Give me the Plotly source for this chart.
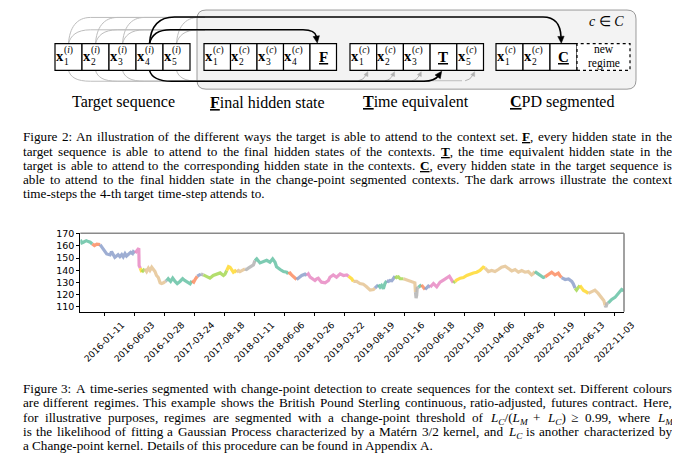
import re
import plotly.graph_objects as go

# page is shown with the browser's default 8px body margin, so the figure is 672x451
OFF = 8
FWID, FHEI = 672, 451

def PX(x):
    return (x - OFF) / FWID

def PY(y):
    return 1 - (y - OFF) / FHEI

# ---------------- data ----------------
idx = [0, 5, 10, 20, 27, 33,
       40, 47, 55,
       66, 77, 88, 99, 104, 115, 121, 126, 132, 138, 143, 149, 154, 160, 168, 174, 177,
       183, 190, 195, 196, 197,
       200,
       205, 210,
       215, 221, 227, 232, 238, 243, 249, 254, 260, 266, 271, 277,
       283,
       288, 293, 301, 308, 316, 323, 332, 341, 348, 357, 366,
       372, 378, 384,
       390, 396,
       402,
       410, 421, 432, 443, 454, 466, 477, 482,
       488, 494, 499, 505, 510, 516,
       521, 527, 532, 538, 543,
       549, 554, 560, 566, 571, 577,
       582, 588, 599, 610, 621, 632, 641, 649, 654, 666, 677, 688,
       693, 699, 704, 710, 716,
       721, 727, 738, 749,
       755, 760, 766, 777, 782, 788, 793, 799, 804, 816, 827, 832, 843, 854, 866, 877, 888,
       894, 899, 905,
       910, 921, 932, 943, 954, 966, 977,
       982, 988,
       993, 999, 1004, 1010, 1015,
       1021, 1027, 1032, 1038, 1043,
       1049, 1054, 1060, 1066,
       1077, 1088, 1093, 1104, 1110, 1115,
       1117, 1119, 1121, 1123,
       1127, 1132,
       1137, 1143,
       1149, 1154, 1160,
       1166, 1177, 1188, 1199, 1210, 1221, 1230, 1238,
       1243,
       1249, 1254, 1266, 1277, 1288, 1299, 1310, 1321, 1332, 1343,
       1349, 1360, 1371, 1382, 1393, 1404, 1416, 1427, 1438, 1449, 1460, 1471, 1482, 1493, 1504, 1510,
       1515, 1526, 1538, 1543,
       1549, 1560, 1571, 1582, 1593, 1598,
       1604, 1616, 1627, 1638, 1643,
       1649, 1654, 1660,
       1665, 1671, 1677, 1684,
       1693, 1704, 1715, 1726, 1738, 1745,
       1749, 1752, 1755,
       1760, 1771, 1782, 1793, 1804, 1812]

price = [165.0, 162.4, 163.0, 164.3, 163.5, 163.0,
         161.5, 160.2, 161.5,
         161.0, 157.5, 153.4, 152.6, 155.3, 150.6, 152.0, 152.8, 151.2, 152.8, 151.0, 153.7, 151.7, 153.4, 154.7, 153.7, 155.3,
         154.2, 157.0, 158.0, 143.8, 142.5,
         141.7,
         138.4, 139.5,
         141.1, 138.9, 141.7, 139.8, 142.5, 141.1, 138.9, 135.7, 134.0, 129.7, 129.1, 129.7,
         130.8,
         131.6, 133.0, 130.8, 133.5, 130.8, 129.1, 130.8, 133.0, 131.6, 130.2, 128.9,
         131.3, 130.2, 133.0,
         135.1, 136.2,
         136.8,
         136.2, 135.1, 133.5, 135.7, 136.8, 137.8, 135.7, 136.8,
         139.8, 143.0, 142.5, 139.8, 138.4, 139.5,
         138.4, 139.8, 138.9, 139.5, 140.6,
         141.1, 140.6, 141.7, 142.5, 143.3, 144.4,
         147.9, 149.3, 146.0, 147.1, 148.2, 146.6, 149.3, 146.6, 142.8, 140.6, 138.9, 138.4,
         137.0, 137.8, 136.2, 135.1, 133.5,
         132.4, 133.5, 135.7, 136.8,
         135.7, 137.0, 134.3, 132.1, 131.6, 133.0, 133.5, 131.6, 130.2, 129.7, 131.6, 134.3, 136.2, 134.3, 137.0, 135.7, 136.2,
         135.1, 134.0, 132.9,
         130.8, 130.8, 129.1, 128.6, 126.4, 123.7, 124.2,
         125.3, 126.4,
         128.0, 126.1, 127.5, 124.8, 128.9,
         131.3, 130.8, 131.6, 131.3, 133.0,
         135.1, 134.0, 134.6, 133.0,
         133.0, 132.1, 131.3, 130.8, 130.2, 129.7,
         122.0, 117.1, 119.3, 125.3,
         126.1, 127.0,
         128.0, 126.4,
         124.2, 125.3, 127.0,
         126.1, 129.1, 126.4, 130.2, 131.9, 133.5, 135.1, 131.9,
         129.7,
         130.8, 131.9, 133.5, 134.0, 135.7, 137.0, 137.8, 138.4, 139.8, 142.5,
         141.7, 138.9, 139.8, 138.9, 140.6, 142.5, 143.3, 141.7, 139.5, 140.6, 138.4, 139.8, 138.4, 138.9, 136.2, 137.3,
         138.9, 136.8, 134.3, 134.0,
         134.6, 136.2, 138.4, 136.2, 137.6, 135.7,
         134.0, 132.4, 132.9, 130.8, 128.9,
         125.3, 123.7, 125.9,
         127.5, 125.3, 123.4, 122.6,
         121.0, 122.0, 123.7, 121.0, 117.1, 115.0,
         111.1, 109.8, 112.5,
         113.3, 116.0, 117.7, 121.0, 124.2, 123.0]

regime = (["teal"] * 6 + ["orange"] * 3 + ["blue"] * 17 + ["pink"] * 5 + ["yellow"] * 1
          + ["green"] * 2 + ["tan"] * 12 + ["grey"] * 1 + ["teal"] * 11 + ["orange"] * 3
          + ["blue"] * 2 + ["grey"] * 1 + ["green"] * 8 + ["yellow"] * 6 + ["tan"] * 5
          + ["grey"] * 6 + ["teal"] * 12 + ["orange"] * 5 + ["blue"] * 4 + ["pink"] * 17
          + ["yellow"] * 3 + ["tan"] * 7 + ["blue"] * 2 + ["teal"] * 5 + ["blue"] * 5
          + ["green"] * 4 + ["tan"] * 6 + ["grey"] * 4 + ["teal"] * 2 + ["orange"] * 2
          + ["blue"] * 3 + ["pink"] * 8 + ["green"] * 1 + ["yellow"] * 10 + ["tan"] * 16
          + ["teal"] * 4 + ["orange"] * 6 + ["blue"] * 5 + ["green"] * 3 + ["yellow"] * 4
          + ["tan"] * 6 + ["grey"] * 3 + ["teal"] * 6)

tick_labels = ["2016-01-11", "2016-06-03", "2016-10-28", "2017-03-24", "2017-08-18",
               "2018-01-11", "2018-06-06", "2018-10-26", "2019-03-22", "2019-08-19",
               "2020-01-16", "2020-06-18", "2020-11-09", "2021-04-06", "2021-08-26",
               "2022-01-19", "2022-06-13", "2022-11-03"]
y_ticks = [110, 120, 130, 140, 150, 160, 170]

cap2 = [
    "Figure 2: An illustration of the different ways the target is able to attend to the context set. <b><u>F</u></b>, every hidden state in the",
    "target sequence is able to attend to the final hidden states of the contexts. <b><u>T</u></b>, the time equivalent hidden state in the",
    "target is able to attend to the corresponding hidden state in the contexts. <b><u>C</u></b>, every hidden state in the target sequence is",
    "able to attend to the final hidden state in the change-point segmented contexts. The dark arrows illustrate the context",
    "time-steps the 4-th target time-step attends to.",
]
cap3 = [
    "Figure 3: A time-series segmented with change-point detection to create sequences for the context set. Different colours",
    "are different regimes. This example shows the British Pound Sterling continuous, ratio-adjusted, futures contract. Here,",
    "for illustrative purposes, regimes are segmented with a change-point threshold of <i>L</i><sub><i>C</i></sub>/(<i>L</i><sub><i>M</i></sub> + <i>L</i><sub><i>C</i></sub>) ≥ 0.99, where <i>L</i><sub><i>M</i></sub>",
    "is the likelihood of fitting a Gaussian Process characterized by a Matérn 3/2 kernel, and <i>L</i><sub><i>C</i></sub> is another characterized by",
    "a Change-point kernel. Details of this procedure can be found in Appendix A.",
]

assert len(idx) == len(price) == len(regime)

regime_colors = {
    "teal": "rgba(102,194,165,0.85)", "orange": "rgba(252,141,98,0.85)",
    "blue": "rgba(141,160,203,0.85)", "pink": "rgba(231,138,195,0.85)",
    "green": "rgba(166,216,84,0.85)", "yellow": "rgba(255,217,47,0.85)",
    "tan": "rgba(229,196,148,0.85)", "grey": "rgba(179,179,179,0.85)",
}

fig = go.Figure()

n = len(idx)
i = 0
while i < n:
    j = i
    while j < n and regime[j] == regime[i]:
        j += 1
    xs = idx[i:j] + ([idx[j]] if j < n else [])
    ys = price[i:j] + ([price[j]] if j < n else [])
    fig.add_trace(go.Scatter(x=xs, y=ys, mode="lines",
                             line=dict(color=regime_colors[regime[i]], width=3.2),
                             hoverinfo="skip", showlegend=False))
    i = j

tick_pos = [80 + 100 * k for k in range(len(tick_labels))]

fig.update_layout(width=FWID, height=FHEI, margin=dict(l=0, r=0, t=0, b=0),
                  paper_bgcolor="white", plot_bgcolor="white", showlegend=False)
fig.update_xaxes(domain=[PX(80.3), PX(624)], range=[0, 1812], tickvals=tick_pos,
                 showticklabels=False, ticks="outside", ticklen=3, tickcolor="black",
                 showline=True, linecolor="black", linewidth=1,
                 showgrid=False, zeroline=False)
fig.update_yaxes(domain=[PY(310), PY(230.7)], range=[106, 170.4], tickvals=y_ticks,
                 ticks="outside", ticklen=3, tickcolor="black",
                 tickfont=dict(family="DejaVu Sans", size=9.5, color="black"),
                 showline=True, linecolor="black", linewidth=1,
                 showgrid=False, zeroline=False)

shapes = []
annots = []

shapes.append(dict(type="line", xref="x domain", yref="y domain", x0=0, x1=1, y0=1, y1=1,
                   line=dict(color="#8a8a8a", width=1.6)))
shapes.append(dict(type="line", xref="x domain", yref="y domain", x0=1, x1=1, y0=0, y1=1,
                   line=dict(color="#8a8a8a", width=1.6)))

for tp, tl in zip(tick_pos, tick_labels):
    annots.append(dict(x=tp, xref="x", y=0, yref="y domain", yshift=-30, text=tl,
                       textangle=-45, showarrow=False, xanchor="center", yanchor="middle",
                       borderpad=0, borderwidth=0,
                       font=dict(family="DejaVu Sans", size=9, color="black")))

# ---------------- diagram (Figure 2) ----------------
def pp(x, y):
    return f"{PX(x):.5f},{PY(y):.5f}"

def path(cmds):
    return " ".join(c[0] + " " + " ".join(pp(*p) for p in c[1:]) for c in cmds)

def rrect(x0, y0, x1, y1, r):
    return path([("M", (x0 + r, y0)), ("L", (x1 - r, y0)), ("Q", (x1, y0), (x1, y0 + r)),
                 ("L", (x1, y1 - r)), ("Q", (x1, y1), (x1 - r, y1)), ("L", (x0 + r, y1)),
                 ("Q", (x0, y1), (x0, y1 - r)), ("L", (x0, y0 + r)), ("Q", (x0, y0), (x0 + r, y0))]) + " Z"

def head(tip, d, length, half, color):
    dx, dy = d
    nrm = (dx * dx + dy * dy) ** 0.5
    dx, dy = dx / nrm, dy / nrm
    bx, by = tip[0] - length * dx, tip[1] - length * dy
    qx, qy = -dy, dx
    shapes.append(dict(type="path", xref="paper", yref="paper",
                       path=path([("M", tip), ("L", (bx + half * qx, by + half * qy)),
                                  ("L", (bx - half * qx, by - half * qy))]) + " Z",
                       fillcolor=color, line=dict(color=color, width=0.5)))

def curve(cmds, color, width):
    shapes.append(dict(type="path", xref="paper", yref="paper", path=path(cmds),
                       line=dict(color=color, width=width)))

shapes.append(dict(type="path", xref="paper", yref="paper", path=rrect(197, 5, 636, 85, 9),
                   fillcolor="#f3f3f3", line=dict(color="#9a9a9a", width=1)))

GREY = "#bdbdbd"
tgt_left = [55, 82, 109, 136, 163]
BW = 27
BT, BB = 39, 66

for k, L in enumerate(tgt_left):
    if k == 3:
        continue
    c = L + BW / 2
    curve([("M", (c, BT)), ("C", (c + 1, 23), (c + 8, 12.5), (c + 22, 12.5)), ("L", (205, 12.5))], GREY, 1)
    curve([("M", (c, BT)), ("C", (c + 2, 31), (c + 8, 25), (c + 22, 25)), ("L", (205, 25))], GREY, 1)
    curve([("M", (c, BB)), ("C", (c + 2, 73), (c + 8, 77), (c + 22, 77)), ("L", (205, 77))], GREY, 1)
curve([("M", (200, 76.5)), ("L", (462, 76.5))], GREY, 1)

def box(x0, x1, dash=None):
    ln = dict(color="black", width=1.2)
    if dash:
        ln["dash"] = dash
    shapes.append(dict(type="rect", xref="paper", yref="paper", x0=PX(x0), x1=PX(x1),
                       y0=PY(BB), y1=PY(BT), fillcolor="white", line=ln))

def note(x, y, text, size, xanchor="center", align="center"):
    annots.append(dict(x=PX(x), y=PY(y), xref="paper", yref="paper", text=text,
                       showarrow=False, xanchor=xanchor, yanchor="middle", align=align,
                       borderpad=0, borderwidth=0,
                       font=dict(family="Liberation Serif", size=size, color="black")))

def xlabel(L, sub, sup):
    note(L + 8.7, 51.5, "<b>x</b>", 14.5, xanchor="right")
    note(L + 8.7, 51, f"(<i>{sup}</i>)<br>{sub}", 9.5, xanchor="left", align="left")

def biglab(L, w, letter):
    note(L + w / 2, 52, f"<b><u>{letter}</u></b>", 15)

for k, L in enumerate(tgt_left):
    box(L, L + BW)
    xlabel(L, k + 1, "i")

FBW = 26.5
f_left = [204 + FBW * k for k in range(5)]
for k, L in enumerate(f_left):
    box(L, L + FBW)
    if k < 4:
        xlabel(L, k + 1, "c")
    else:
        biglab(L, FBW, "F")

TW = 26.7
t_left = [350 + TW * k for k in range(5)]
for k, L in enumerate(t_left):
    box(L, L + TW)
    if k == 3:
        biglab(L, TW, "T")
    else:
        xlabel(L, k + 1, "c")

CW = 27
c_left = [496 + CW * k for k in range(3)]
for k, L in enumerate(c_left):
    box(L, L + CW)
    if k == 2:
        biglab(L, CW, "C")
    else:
        xlabel(L, k + 1, "c")
box(577, 630, dash="dot")
note(603.5, 44, "new", 11.5)
note(603.5, 59, "regime", 11.5)

for k in [0, 1, 2, 4]:
    c = t_left[k] + TW / 2
    curve([("M", (c - 5, 76.5)), ("Q", (c, 76), (c + 3, 70.5))], "#b0b0b0", 1)
    head((c + 4.5, 67.3), (1.5, -3.2), 4.5, 2.2, "#b0b0b0")

c4 = tgt_left[3] + BW / 2
curve([("M", (c4, BT)), ("C", (c4 + 1, 22), (c4 + 8, 12), (c4 + 25, 12)),
       ("L", (543, 12)), ("C", (555, 12), (560.5, 19), (561, 32))], "black", 1.6)
head((561.3, 38.6), (0.05, 1), 7, 3.2, "black")
curve([("M", (c4, BT)), ("C", (c4 + 2, 30), (c4 + 8, 25), (c4 + 21, 25)),
       ("L", (303, 25)), ("C", (311, 25), (315.5, 27.5), (316.5, 32))], "black", 1.6)
head((317.3, 38.3), (0.15, 1), 7, 3.2, "black")
curve([("M", (c4, BB)), ("C", (c4 + 2, 73), (c4 + 8, 77), (c4 + 22, 77)),
       ("L", (424, 77)), ("C", (432, 77), (436, 75), (438.5, 71.5))], "black", 1.6)
head((441.7, 66.8), (3.5, -5), 7, 3.2, "black")

note(606, 17, "<i>c</i> ∈ <i>C</i>", 14)

for txt, cx in [("Target sequence", 123), ("<b><u>F</u></b>inal hidden state", 267.5),
                ("<b><u>T</u></b>ime equivalent", 416), ("<b><u>C</u></b>PD segmented", 561.5)]:
    note(cx, 98, txt, 16)

# ---------------- captions, justified with Times metrics ----------------
REG = {' ': 250, '(': 333, ')': 333, '+': 564, ',': 250, '-': 333, '.': 250, '/': 278, ':': 278,
       'A': 722, 'B': 667, 'C': 667, 'D': 722, 'E': 611, 'F': 556, 'G': 722, 'H': 722, 'I': 333,
       'J': 389, 'K': 722, 'L': 611, 'M': 889, 'N': 722, 'O': 722, 'P': 556, 'Q': 722, 'R': 667,
       'S': 556, 'T': 611, 'U': 722, 'V': 722, 'W': 944, 'X': 722, 'Y': 722, 'Z': 611,
       'a': 444, 'b': 500, 'c': 444, 'd': 500, 'e': 444, 'f': 333, 'g': 500, 'h': 500, 'i': 278,
       'j': 278, 'k': 500, 'l': 278, 'm': 778, 'n': 500, 'o': 500, 'p': 500, 'q': 500, 'r': 333,
       's': 389, 't': 278, 'u': 500, 'v': 500, 'w': 722, 'x': 500, 'y': 500, 'z': 444,
       'é': 444, '≥': 549}
BOLD = {'F': 611, 'T': 667, 'C': 722}
ITAL = {'L': 556, 'C': 667, 'M': 833}

def em_width(html):
    w = 0.0
    b = it = sub = 0
    for tok in re.split(r'(<[^>]+>)', html):
        if tok.startswith('<'):
            d = -1 if tok.startswith('</') else 1
            t = tok.strip('<>/').lower()
            if t == 'b':
                b += d
            elif t == 'i':
                it += d
            elif t in ('sub', 'sup'):
                sub += d
            continue
        for ch in tok:
            if b and ch in BOLD:
                cw = BOLD[ch]
            elif it and ch in ITAL:
                cw = ITAL[ch]
            else:
                cw = REG.get(ch, 500)
            w += cw * (0.7 if sub else 1)
    return w / 1000.0

X0, X1 = 22.7, 671.7
FS = 13.2
LINE = 14.4
HALF = 0.553 * FS  # half of a single text line box

for lines, y0 in [(cap2, 133), (cap3, 387.5)]:
    for k, ln in enumerate(lines):
        words = ln.split(' ')
        ws = [em_width(wd) * FS for wd in words]
        if k < len(lines) - 1:
            gap = max(0.12 * FS, ((X1 - X0) - sum(ws)) / (len(words) - 1))
        else:
            gap = 0.25 * FS
        x = X0
        for wd, wv in zip(words, ws):
            annots.append(dict(x=PX(x), y=PY(y0 + LINE * k - HALF), xref="paper", yref="paper",
                               text=wd, showarrow=False, xanchor="left", yanchor="top",
                               borderpad=0, borderwidth=0,
                               font=dict(family="Liberation Serif", size=FS, color="black")))
            x += wv + gap

fig.update_layout(shapes=shapes, annotations=annots)
fig.write_html("out.html")
